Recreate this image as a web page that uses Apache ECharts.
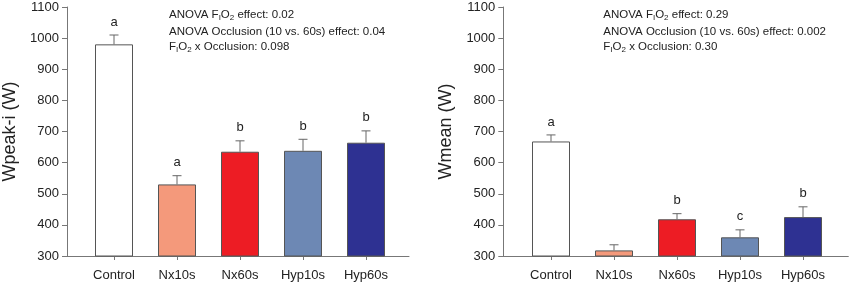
<!DOCTYPE html>
<html>
<head>
<meta charset="utf-8">
<script src="https://cdn.jsdelivr.net/npm/echarts@6/dist/echarts.min.js"></script>
<style>html,body{margin:0;padding:0;background:#fff;}#c{width:852px;height:282px;}</style>
</head>
<body>
<div id="c"></div>
<script>
const categories = ['Control', 'Nx10s', 'Nx60s', 'Hyp10s', 'Hyp60s'];
const barColors = ['#ffffff', '#f4997b', '#ed1c24', '#6d88b4', '#2e3192'];
const yTicks = [300, 1100, 100];

const peakMean = [980, 530, 635, 638, 664];
const peakSE = [30, 28, 35, 37, 38];
const peakLetters = ['a', 'a', 'b', 'b', 'b'];
const peakAnova = ['0.02', '0.04', '0.098'];

const meanMean = [668, 318, 418, 360, 425];
const meanSE = [21, 18, 18, 24, 33];
const meanLetters = ['a', '', 'b', 'c', 'b'];
const meanAnova = ['0.29', '0.002', '0.30'];

const FONT = 'Liberation Sans, Arial, sans-serif';
const AXIS = '#777';
const TXT = '#222';

const chart = echarts.init(document.getElementById('c'));

const TOP = 7, H = 249;
const panels = [
  { axisLeft: 67, axisW: 342, barLeft: 82.5, barW: 315, title: 'Wpeak-i (W)', mean: peakMean, se: peakSE, letters: peakLetters, anova: peakAnova, annX: 169 },
  { axisLeft: 503.3, axisW: 345, barLeft: 519.5, barW: 315, title: 'Wmean (W)', mean: meanMean, se: meanSE, letters: meanLetters, anova: meanAnova, annX: 603.3 }
];

const grid = [], xAxis = [], yAxis = [], series = [], graphic = [];
panels.forEach((p, pi) => {
  const ga = grid.length;
  grid.push({ left: p.axisLeft, width: p.axisW, top: TOP, height: H });
  grid.push({ left: p.barLeft, width: p.barW, top: TOP, height: H });
  xAxis.push({ type: 'value', gridIndex: ga, min: 0, max: 1, axisLine: { show: true, lineStyle: { color: AXIS, width: 1 } },
    axisTick: { show: false }, axisLabel: { show: false }, splitLine: { show: false } });
  xAxis.push({ type: 'category', gridIndex: ga + 1, data: categories, axisLine: { show: false },
    axisTick: { show: true, alignWithLabel: true, length: 4, lineStyle: { color: AXIS } },
    axisLabel: { color: TXT, fontSize: 13, fontFamily: FONT, margin: 13 } });
  yAxis.push({ type: 'value', gridIndex: ga, min: yTicks[0], max: yTicks[1], interval: yTicks[2],
    name: p.title, nameLocation: 'middle', nameGap: 48, nameRotate: 90,
    nameTextStyle: { fontSize: 18, color: TXT, fontFamily: FONT },
    axisLine: { show: true, lineStyle: { color: AXIS, width: 1 } },
    axisTick: { show: true, length: 5, lineStyle: { color: AXIS } },
    axisLabel: { color: TXT, fontSize: 13, fontFamily: FONT, margin: 8, formatter: v => String(v) }, splitLine: { show: false } });
  yAxis.push({ type: 'value', gridIndex: ga + 1, min: yTicks[0], max: yTicks[1], interval: yTicks[2], show: false, splitLine: { show: false } });

  series.push({ type: 'bar', xAxisIndex: ga + 1, yAxisIndex: ga + 1, barWidth: 38,
    data: p.mean.map((v, i) => ({ value: v, itemStyle: { color: barColors[i], borderColor: '#555', borderWidth: 1 } })),
    silent: true, animation: false });
  series.push({ type: 'custom', xAxisIndex: ga + 1, yAxisIndex: ga + 1, z: 5, animation: false, silent: true,
    data: p.mean.map((v, i) => [i, v, v + p.se[i]]),
    renderItem: (params, api) => {
      const i = api.value(0);
      const b = api.coord([i, api.value(1)]);
      const t = api.coord([i, api.value(2)]);
      const st = { stroke: '#666', lineWidth: 1 };
      const children = [
        { type: 'line', shape: { x1: b[0], y1: b[1], x2: t[0], y2: t[1] }, style: st },
        { type: 'line', shape: { x1: t[0] - 4.5, y1: t[1], x2: t[0] + 4.5, y2: t[1] }, style: st }
      ];
      const L = p.letters[i];
      if (L) children.push({ type: 'text', style: { text: L, x: t[0], y: t[1] - 13, align: 'center', verticalAlign: 'middle', fontSize: 13, fontFamily: FONT, fill: TXT } });
      return { type: 'group', children };
    } });

  const rich = { n: { fontSize: 11.5, fontFamily: FONT, color: TXT, lineHeight: 14, verticalAlign: 'middle' },
                 s: { fontSize: 8, fontFamily: FONT, color: TXT, lineHeight: 8, verticalAlign: 'bottom' } };
  const lines = [
    '{n|ANOVA F}{s|I}{n|O}{s|2}{n| effect: ' + p.anova[0] + '}',
    '{n|ANOVA Occlusion (10 vs. 60s) effect: ' + p.anova[1] + '}',
    '{n|F}{s|I}{n|O}{s|2}{n| x Occlusion: ' + p.anova[2] + '}'
  ];
  const ys = [16, 33, 48];
  lines.forEach((t, li) => {
    graphic.push({ type: 'text', left: p.annX, top: ys[li] - 7, style: { text: t, rich, fill: TXT } });
  });
});

chart.setOption({ animation: false, grid, xAxis, yAxis, series, graphic });
</script>
</body>
</html>
